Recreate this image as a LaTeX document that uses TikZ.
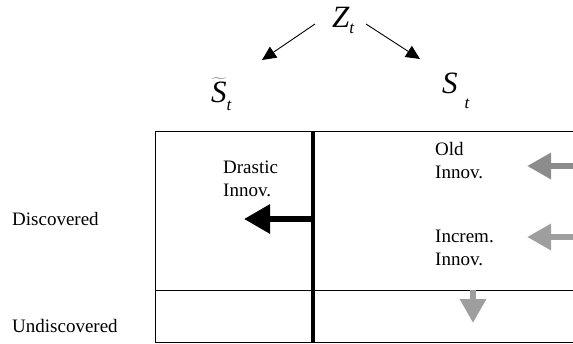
\documentclass[tikz,border=0pt]{standalone}
\usepackage{fontspec}
\setmainfont{Liberation Serif}
\usetikzlibrary{arrows.meta,positioning}
\definecolor{OldG}{RGB}{140,140,140}
\definecolor{IncG}{RGB}{158,158,158}
\newcommand{\lowsub}[2][7pt]{\raisebox{-#1}{\fontsize{17}{17}\selectfont\itshape #2}}
\tikzset{
  lbl/.style={inner sep=0pt,font=\fontsize{19}{22.5}\selectfont,align=left},
  sym/.style={inner sep=0pt,font=\fontsize{31}{31}\selectfont\itshape},
  grid/.style={line width=0.8pt,black},
  wall/.style={line width=4.5pt,black},
  link/.style={-{Triangle[length=14pt,width=13pt]},line width=0.9pt},
  pushd/.style={-{Triangle[length=26pt,width=28pt]},line width=6pt,black},
  pushg/.style={-{Triangle[length=24pt,width=25pt]},line width=6pt},
}
\begin{document}
\begin{tikzpicture}[x=1pt,y=-1pt]
  \useasboundingbox (0,0) rectangle (573,343);
  % state variables
  \node[sym,anchor=base west] (Z) at (332,27) {Z\lowsub[6pt]{t}};
  \node[sym,anchor=base west] (St) at (211,102) {$\widetilde{\textit{S}}$\lowsub[8pt]{t}};
  \node[sym,anchor=base west] (S) at (442,93) {S\hspace{7pt}\lowsub[15pt]{t}};
  \coordinate (zl) at (315,24);
  \coordinate (sl) at (262,60);
  \coordinate (zr) at (366,24);
  \coordinate (sr) at (420,59);
  \draw[link] (zl) -- (sl);
  \draw[link] (zr) -- (sr);
  % the table
  \coordinate (tl) at (155,131);
  \coordinate (tr) at (573,131);
  \coordinate (bl) at (155,342);
  \coordinate (br) at (573,342);
  \coordinate (ml) at (155,290);
  \coordinate (mr) at (573,290);
  \coordinate (wt) at (313,131);
  \coordinate (wb) at (313,342);
  \draw[grid] (tr) -- (tl) -- (bl) -- (br);
  \draw[grid] (ml) -- (mr);
  \draw[wall] (wt) -- (wb);
  % row labels
  \node[lbl,anchor=base west] (disc) at (12,225) {Discovered};
  \node[lbl,anchor=base west] (undisc) at (12,332) {Undiscovered};
  % cells (base = last line)
  \node[lbl,anchor=base west] (drastic) at (223,196) {Drastic\\Innov.};
  \node[lbl,anchor=base west] (old) at (435,178) {Old\\Innov.};
  \node[lbl,anchor=base west] (incr) at (435,265) {Increm.\\Innov.};
  % flows
  \coordinate (dstart) at (313,219);
  \coordinate (dtip) at (244,219);
  \draw[pushd] (dstart) -- (dtip);
  \coordinate (o1) at (573,166);
  \coordinate (o2) at (527,166);
  \draw[pushg,OldG] (o1) -- (o2);
  \coordinate (i1) at (573,237);
  \coordinate (i2) at (527,237);
  \draw[pushg,IncG] (i1) -- (i2);
  \coordinate (d1) at (473,290);
  \coordinate (d2) at (473,323);
  \draw[pushg,IncG] (d1) -- (d2);
\end{tikzpicture}
\end{document}
